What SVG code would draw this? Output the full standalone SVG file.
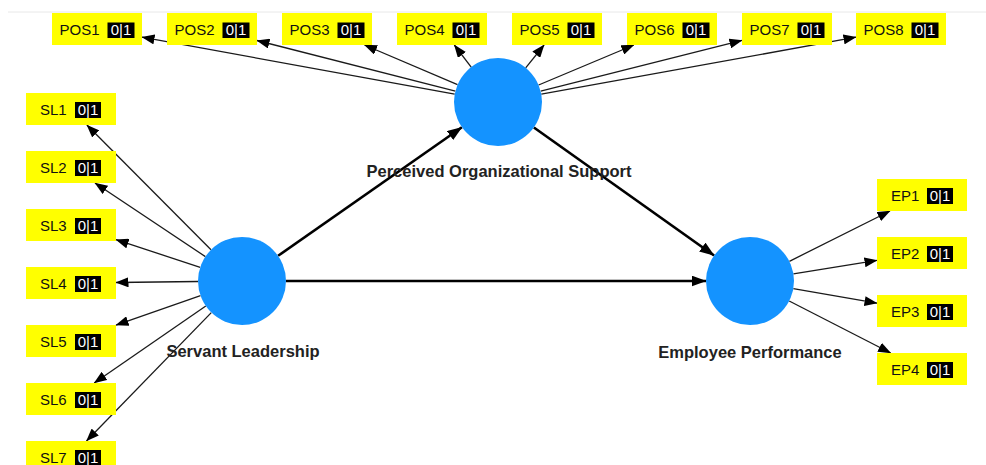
<svg xmlns="http://www.w3.org/2000/svg" width="986" height="465" viewBox="0 0 986 465">
  <style>
    .ind { fill: #ffff00; }
    .tag { font-family: "Liberation Sans", Arial, sans-serif; font-size: 15px; fill: #111; }
    .badge { fill: #000; }
    .bt { font-family: "Liberation Sans", Arial, sans-serif; font-size: 15px; fill: #fff; text-anchor: middle; }
    .lv { fill: #1493ff; }
    .lvt { font-family: "Liberation Sans", Arial, sans-serif; font-size: 16.5px; font-weight: bold; fill: #222; text-anchor: middle; }
    .thin { stroke: #1a1a1a; stroke-width: 1.3; fill: none; marker-end: url(#ah); }
    .thick { stroke: #000; stroke-width: 2.6; fill: none; marker-end: url(#ahb); }
  </style>
  <defs>
    <marker id="ah" markerUnits="userSpaceOnUse" markerWidth="13" markerHeight="10" refX="12.5" refY="5" orient="auto">
      <path d="M0,0 L13,5 L0,10 z" fill="#000"/>
    </marker>
    <marker id="ahb" markerUnits="userSpaceOnUse" markerWidth="15" markerHeight="11" refX="14.5" refY="5.5" orient="auto">
      <path d="M0,0 L15,5.5 L0,11 z" fill="#000"/>
    </marker>
  </defs>

  <rect width="986" height="465" fill="#fff"/>
  <line x1="8" y1="12" x2="986" y2="12" stroke="#e8e8e8" stroke-width="1"/>

  <!-- connectors -->
  <g id="connectors">
    <!-- structural paths -->
    <line class="thick" x1="278.1" y1="255.8" x2="461.9" y2="127.2"/>
    <line class="thick" x1="533.9" y1="127.5" x2="714.1" y2="255.5"/>
    <line class="thick" x1="286" y1="281" x2="706" y2="281"/>
    <!-- Perceived Organizational Support indicators -->
    <line class="thin" x1="454.7" y1="94.1" x2="142" y2="37.2"/>
    <line class="thin" x1="455.4" y1="91.1" x2="257" y2="40.5"/>
    <line class="thin" x1="457.5" y1="84.7" x2="364.5" y2="45"/>
    <line class="thin" x1="471.2" y1="67.1" x2="454.3" y2="45"/>
    <line class="thin" x1="525.7" y1="67.8" x2="544.1" y2="45"/>
    <line class="thin" x1="538.6" y1="85.0" x2="633.9" y2="45"/>
    <line class="thin" x1="540.7" y1="91.2" x2="742" y2="40.4"/>
    <line class="thin" x1="541.3" y1="94.2" x2="856" y2="37.2"/>
    <!-- Servant Leadership indicators -->
    <line class="thin" x1="211.0" y1="249.8" x2="86.9" y2="125"/>
    <line class="thin" x1="205.4" y1="256.6" x2="95" y2="183"/>
    <line class="thin" x1="200.2" y1="267.3" x2="116" y2="239.7"/>
    <line class="thin" x1="198" y1="281.5" x2="116" y2="282.5"/>
    <line class="thin" x1="200.5" y1="295.6" x2="116" y2="325.2"/>
    <line class="thin" x1="205.8" y1="306.0" x2="94.2" y2="383"/>
    <line class="thin" x1="211.3" y1="312.6" x2="86.5" y2="441"/>
    <!-- Employee Performance indicators -->
    <line class="thin" x1="789.4" y1="261.3" x2="890" y2="211"/>
    <line class="thin" x1="793.4" y1="273.9" x2="877" y2="260.3"/>
    <line class="thin" x1="793.3" y1="288.6" x2="877" y2="303.2"/>
    <line class="thin" x1="789.2" y1="301.0" x2="890.7" y2="353"/>
  </g>

  <!-- latent variables -->
  <g id="POS">
    <circle class="lv" cx="498" cy="102" r="44"/>
    <text class="lvt" x="499" y="177">Perceived Organizational Support</text>
  </g>
  <g id="SL">
    <circle class="lv" cx="242" cy="281" r="44"/>
    <text class="lvt" x="243" y="357">Servant Leadership</text>
  </g>
  <g id="EP">
    <circle class="lv" cx="750" cy="281" r="44"/>
    <text class="lvt" x="750" y="358">Employee Performance</text>
  </g>

  <!-- POS indicators -->
  <g id="POS1"><rect class="ind" x="52" y="13" width="90" height="32"/><text class="tag" x="59.5" y="35">POS1</text><rect class="badge" x="107.5" y="22.5" width="27" height="15.5"/><text class="bt" x="121" y="35">0|1</text></g>
  <g id="POS2"><rect class="ind" x="167" y="13" width="90" height="32"/><text class="tag" x="174.5" y="35">POS2</text><rect class="badge" x="222.5" y="22.5" width="27" height="15.5"/><text class="bt" x="236" y="35">0|1</text></g>
  <g id="POS3"><rect class="ind" x="282" y="13" width="90" height="32"/><text class="tag" x="289.5" y="35">POS3</text><rect class="badge" x="337.5" y="22.5" width="27" height="15.5"/><text class="bt" x="351" y="35">0|1</text></g>
  <g id="POS4"><rect class="ind" x="397" y="13" width="90" height="32"/><text class="tag" x="404.5" y="35">POS4</text><rect class="badge" x="452.5" y="22.5" width="27" height="15.5"/><text class="bt" x="466" y="35">0|1</text></g>
  <g id="POS5"><rect class="ind" x="512" y="13" width="90" height="32"/><text class="tag" x="519.5" y="35">POS5</text><rect class="badge" x="567.5" y="22.5" width="27" height="15.5"/><text class="bt" x="581" y="35">0|1</text></g>
  <g id="POS6"><rect class="ind" x="627" y="13" width="90" height="32"/><text class="tag" x="634.5" y="35">POS6</text><rect class="badge" x="682.5" y="22.5" width="27" height="15.5"/><text class="bt" x="696" y="35">0|1</text></g>
  <g id="POS7"><rect class="ind" x="742" y="13" width="90" height="32"/><text class="tag" x="749.5" y="35">POS7</text><rect class="badge" x="797.5" y="22.5" width="27" height="15.5"/><text class="bt" x="811" y="35">0|1</text></g>
  <g id="POS8"><rect class="ind" x="856" y="13" width="90" height="32"/><text class="tag" x="863.5" y="35">POS8</text><rect class="badge" x="911.5" y="22.5" width="27" height="15.5"/><text class="bt" x="925" y="35">0|1</text></g>

  <!-- SL indicators -->
  <g id="SL1"><rect class="ind" x="26" y="93" width="90" height="32"/><text class="tag" x="40" y="115">SL1</text><rect class="badge" x="75" y="102" width="26" height="16"/><text class="bt" x="88" y="115">0|1</text></g>
  <g id="SL2"><rect class="ind" x="26" y="151" width="90" height="32"/><text class="tag" x="40" y="173">SL2</text><rect class="badge" x="75" y="160" width="26" height="16"/><text class="bt" x="88" y="173">0|1</text></g>
  <g id="SL3"><rect class="ind" x="26" y="209" width="90" height="32"/><text class="tag" x="40" y="231">SL3</text><rect class="badge" x="75" y="218" width="26" height="16"/><text class="bt" x="88" y="231">0|1</text></g>
  <g id="SL4"><rect class="ind" x="26" y="267" width="90" height="32"/><text class="tag" x="40" y="289">SL4</text><rect class="badge" x="75" y="276" width="26" height="16"/><text class="bt" x="88" y="289">0|1</text></g>
  <g id="SL5"><rect class="ind" x="26" y="325" width="90" height="32"/><text class="tag" x="40" y="347">SL5</text><rect class="badge" x="75" y="334" width="26" height="16"/><text class="bt" x="88" y="347">0|1</text></g>
  <g id="SL6"><rect class="ind" x="26" y="383" width="90" height="32"/><text class="tag" x="40" y="405">SL6</text><rect class="badge" x="75" y="392" width="26" height="16"/><text class="bt" x="88" y="405">0|1</text></g>
  <g id="SL7"><rect class="ind" x="26" y="441" width="90" height="32"/><text class="tag" x="40" y="463">SL7</text><rect class="badge" x="75" y="450" width="26" height="16"/><text class="bt" x="88" y="463">0|1</text></g>

  <!-- EP indicators -->
  <g id="EP1"><rect class="ind" x="877" y="179" width="90" height="32"/><text class="tag" x="891" y="201">EP1</text><rect class="badge" x="927" y="188" width="26" height="16"/><text class="bt" x="940" y="201">0|1</text></g>
  <g id="EP2"><rect class="ind" x="877" y="237" width="90" height="32"/><text class="tag" x="891" y="259">EP2</text><rect class="badge" x="927" y="246" width="26" height="16"/><text class="bt" x="940" y="259">0|1</text></g>
  <g id="EP3"><rect class="ind" x="877" y="295" width="90" height="32"/><text class="tag" x="891" y="317">EP3</text><rect class="badge" x="927" y="304" width="26" height="16"/><text class="bt" x="940" y="317">0|1</text></g>
  <g id="EP4"><rect class="ind" x="877" y="353" width="90" height="32"/><text class="tag" x="891" y="375">EP4</text><rect class="badge" x="927" y="362" width="26" height="16"/><text class="bt" x="940" y="375">0|1</text></g>
</svg>
